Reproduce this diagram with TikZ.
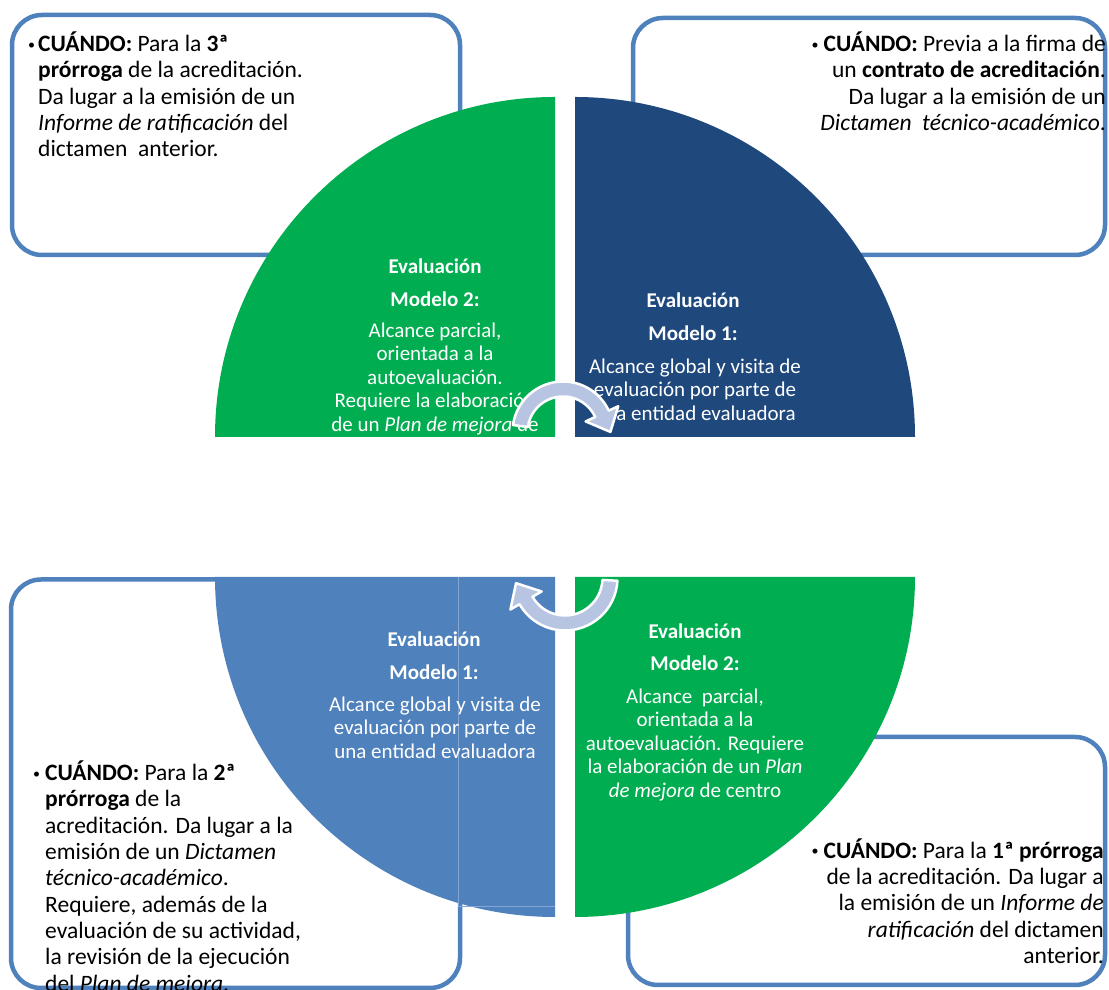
\documentclass[tikz,border=0pt]{standalone}
\usepackage{fontspec}
\setmainfont{Carlito}
\usetikzlibrary{calc}
\definecolor{qgreen}{RGB}{0,173,80}
\definecolor{qnavy}{RGB}{31,73,125}
\definecolor{qblue}{RGB}{79,129,189}
\definecolor{boxline}{RGB}{79,129,189}
\definecolor{faintline}{RGB}{132,166,212}
\definecolor{arrowfill}{RGB}{184,197,226}
\newcommand{\smallbul}{\raisebox{2.5pt}{\fontsize{14}{14}\selectfont\textbullet}}
\begin{document}
\begin{tikzpicture}[x=1pt,y=1pt,
  boxframe/.style={draw=boxline, line width=4.5pt, rounded corners=30pt},
  qtitle/.style={text=white, font=\fontsize{21}{23.5}\selectfont\bfseries, inner sep=0pt, anchor=base},
  qbody/.style={text=white, font=\fontsize{21}{23.5}\selectfont, align=center, inner sep=0pt, anchor=base},
  boxtextL/.style={text=black, font=\fontsize{23.5}{26.3}\selectfont, align=left, inner sep=0pt, anchor=base west},
  boxtextR/.style={text=black, font=\fontsize{23.5}{26.3}\selectfont, align=right, inner sep=0pt, anchor=base east},
  arrowband/.style={fill=arrowfill, draw=white, line width=2.5pt, line join=round}]
\useasboundingbox (0,0) rectangle (1109,990);
\fill[white] (0,0) rectangle (1109,990);

% frames
\draw[boxframe] (12,735) rectangle (460,975);
\draw[boxframe] (633,735) rectangle (1105,972);
\draw[boxframe] (11,2) rectangle (460,410.5);
\draw[boxframe] (628,5) rectangle (1105,253);

% quarters
\fill[qgreen] (555,553) -- (555,893) arc[start angle=90,end angle=180,radius=340] -- cycle;
\fill[qnavy] (575,553) -- (915,553) arc[start angle=0,end angle=90,radius=340] -- cycle;
\fill[qblue] (555,413) -- (215,413) arc[start angle=180,end angle=270,radius=340] -- cycle;
\fill[qgreen] (575,413) -- (575,73) arc[start angle=270,end angle=360,radius=340] -- cycle;
\draw[faintline, line width=0.8pt] (458,413) -- (458,84) -- (555,84);

% quarter texts (base anchor = baseline of the last line)
\node[qtitle] (tlTitle) at (435,716.5) {Evaluación};
\node[qtitle] (tlModel) at (435,683.5) {Modelo 2:};
\node[qbody] (tlBody) at (435,558.5) {Alcance parcial,\\orientada a la\\autoevaluación.\\Requiere la elaboración\\de un \textit{Plan de mejora} de};

\node[qtitle] (trTitle) at (693,682.5) {Evaluación};
\node[qtitle] (trModel) at (693,649.5) {Modelo 1:};
\node[qbody] (trBody) at (695,569.5) {Alcance global y visita de\\evaluación\ por parte de\\una entidad evaluadora};

\node[qtitle] (blTitle) at (434,343.5) {Evaluación};
\node[qtitle] (blModel) at (434,310.5) {Modelo 1:};
\node[qbody] (blBody) at (435,231.5) {Alcance global y visita de\\evaluación\ por parte de\\una entidad evaluadora};

\node[qtitle] (brTitle) at (695,351.5) {Evaluación};
\node[qtitle] (brModel) at (695,319.5) {Modelo 2:};
\node[qbody] (brBody) at (695,192.5) {Alcance\ \ parcial,\\orientada a la\\autoevaluación. Requiere\\la elaboración de un \textit{Plan}\\\textit{de mejora} de centro};

% box texts (base anchor = baseline of the last line)
\node[boxtextL] (tlText) at (38,833.1) {\llap{\smallbul\hspace{3pt}}\textbf{CUÁNDO:} Para la \textbf{3ª}\\\textbf{prórroga} de la acreditación.\\Da lugar a la emisión de un\\\textit{Informe de ratificación} del\\dictamen\ \ anterior.};
\node[boxtextR] (trText) at (1106,859.4) {\smallbul\hspace{5pt}\textbf{CUÁNDO:} Previa a la firma de\\un \textbf{contrato de acreditación}.\\Da lugar a la emisión de un\\\textit{Dictamen\ \ técnico-académico}.};
\node[boxtextL] (blText) at (45,-1.1) {\llap{\smallbul\hspace{5pt}}\textbf{CUÁNDO:} Para la \textbf{2ª}\\\textbf{prórroga} de la\\acreditación. Da lugar a la\\emisión de un \textit{Dictamen}\\\textit{técnico-académico}.\\Requiere, además de la\\evaluación de su actividad,\\la revisión de la ejecución\\del \textit{Plan de mejora}.};
\node[boxtextR] (brText) at (1104,26.5) {\smallbul\hspace{5pt}\textbf{CUÁNDO:} Para la \textbf{1ª prórroga}\\de la acreditación. Da lugar a\\la emisión de un \textit{Informe de}\\\textit{ratificación} del dictamen\\anterior.};

% circular arrows
\coordinate (c1) at (563,558);
\coordinate (c2) at (565,412);
\path[arrowband] ($(c1)+(172:50.5)$) arc[start angle=172,end angle=25,radius=50.5]
  -- ($(c1)+(25:61)$) -- ($(c1)+(25:43)+(-65:20)$) -- ($(c1)+(25:25)$)
  -- ($(c1)+(25:35.5)$) arc[start angle=25,end angle=172,radius=35.5] -- cycle;
\path[arrowband] ($(c2)+(-3:52.5)$) arc[start angle=-3,end angle=-150,radius=52.5]
  -- ($(c2)+(-150:63)$) -- ($(c2)+(-150:45)+(120:20)$) -- ($(c2)+(-150:27)$)
  -- ($(c2)+(-150:37.5)$) arc[start angle=-150,end angle=-3,radius=37.5] -- cycle;
\end{tikzpicture}
\end{document}
